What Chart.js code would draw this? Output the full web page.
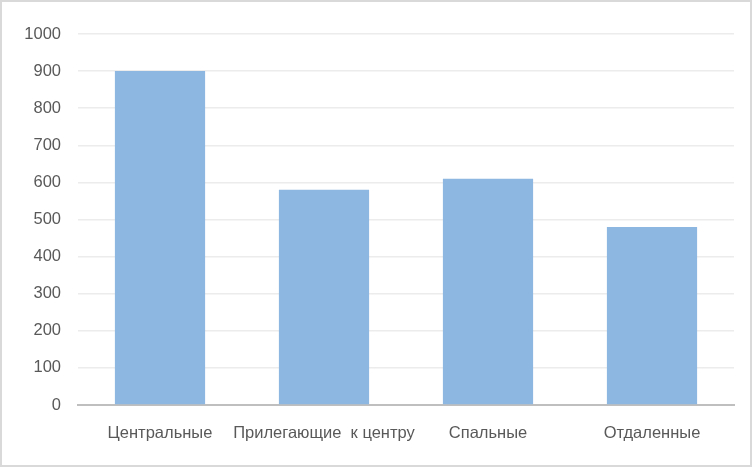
<!DOCTYPE html>
<html>
<head>
<meta charset="utf-8">
<script src="https://cdn.jsdelivr.net/npm/chart.js"></script>
<style>
  html, body { margin: 0; padding: 0; background: #fff; }
  #wrap { width: 752px; height: 467px; position: relative; }
</style>
</head>
<body>
<div id="wrap"><canvas id="myChart"></canvas></div>
<script>
const categories = ['Центральные', 'Прилегающие  к центру', 'Спальные', 'Отдаленные'];
const values = [900, 580, 610, 480];
const yTicks = [0, 100, 200, 300, 400, 500, 600, 700, 800, 900, 1000];

// outer frame like the spreadsheet chart border
const framePlugin = {
    id: 'frame',
    beforeDraw(chart) {
        const ctx = chart.ctx;
        ctx.save();
        ctx.fillStyle = '#ffffff';
        ctx.fillRect(0, 0, chart.width, chart.height);
        ctx.strokeStyle = '#d9d9d9';
        ctx.lineWidth = 2;
        ctx.strokeRect(1, 1, chart.width - 2, chart.height - 2);
        ctx.restore();
    }
};

const ctx = document.getElementById('myChart').getContext('2d');
const myChart = new Chart(ctx, {
    type: 'bar',
    data: {
        labels: categories,
        datasets: [{
            data: values,
            backgroundColor: '#8db6e1',
            borderWidth: 0,
            barPercentage: 0.55,
            categoryPercentage: 1
        }]
    },
    options: {
        responsive: true,
        maintainAspectRatio: false,
        animation: false,
        layout: { padding: { top: 34, right: 18, bottom: 0, left: 0 } },
        plugins: {
            legend: { display: false },
            tooltip: { enabled: false }
        },
        scales: {
            x: {
                grid: { display: false },
                border: { display: true, color: '#bfbfbf', width: 2 },
                ticks: {
                    color: '#595959',
                    padding: 11,
                    font: { family: 'Liberation Sans', size: 16.5 },
                    maxRotation: 0,
                    autoSkip: false
                },
                afterFit(scale) { scale.height = 467 - 405; }
            },
            y: {
                min: 0,
                max: 1000,
                afterBuildTicks(scale) { scale.ticks = yTicks.map(v => ({ value: v })); },
                grid: { color: '#ececec', lineWidth: 1.5, drawTicks: false },
                border: { display: false },
                ticks: {
                    color: '#595959',
                    padding: 17,
                    font: { family: 'Liberation Sans', size: 16.5 },
                    callback: v => String(v)
                },
                afterFit(scale) { scale.width = 78; }
            }
        }
    },
    plugins: [framePlugin]
});
</script>
</body>
</html>
